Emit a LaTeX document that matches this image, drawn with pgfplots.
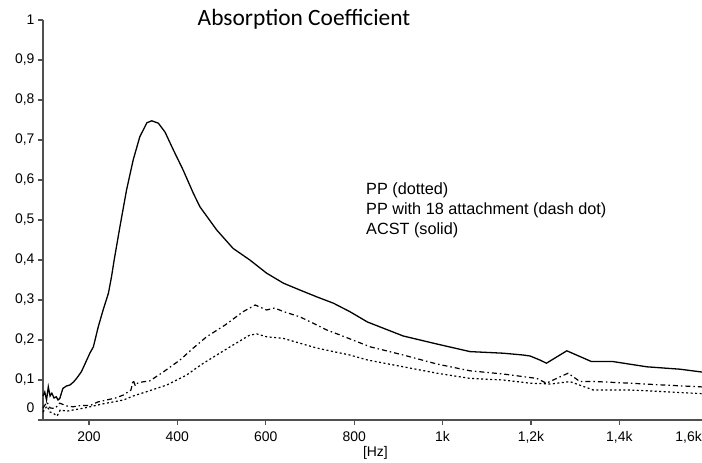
\documentclass[border=0pt]{standalone}
\usepackage{pgfplots}
\pgfplotsset{compat=1.18}
\usepackage{fontspec}
\setmainfont{Liberation Sans}
\newfontfamily\titlefont{Carlito}
\definecolor{axgray}{HTML}{505050}
\begin{document}
\begin{tikzpicture}
\begin{axis}[
  name=ax, at={(0,0)}, anchor=south west,
  scale only axis, width=664.8bp, height=400bp,
  xmin=96, xmax=1600, ymin=0, ymax=1,
  axis x line=bottom, axis y line=left,
  axis line style={-, draw=axgray, line width=1.3bp},
  tick align=outside, major tick length=5bp,
  tick style={draw=axgray, line width=1.3bp},
  xtick={200,400,600,800,1000,1200,1400,1600},
  xticklabels={200,400,600,800,1k,{1,2k},{1,4k},{\makebox[0pt][r]{1,6k\hspace{6bp}}}},
  ytick={0.1,0.2,0.3,0.4,0.5,0.6,0.7,0.8,0.9,1},
  yticklabels={{0,1},{0,2},{0,3},{0,4},{0,5},{0,6},{0,7},{0,8},{0,9},1},
  extra y ticks={0}, extra y tick labels={0},
  extra y tick style={tick label style={yshift=12bp}},
  ticklabel style={font=\fontsize{14}{14}\selectfont, text=black},
  xticklabel style={yshift=-3bp},
  xlabel={[Hz]},
  xlabel style={font=\fontsize{14}{14}\selectfont, yshift=4bp},
  clip=false,
]
% ACST (solid)
\addplot[black, line width=1.3bp] coordinates {
(96,0.06) (100,0.07) (104,0.05) (108,0.083) (112,0.06) (116,0.067) (121,0.055)
(126,0.058) (130,0.05) (134,0.054) (141,0.079) (149,0.085) (157,0.0875) (165,0.095)
(172,0.104) (183,0.121) (195,0.15) (202,0.167) (210,0.183) (221,0.233) (232,0.275)
(244,0.317) (251,0.358) (257,0.40) (270,0.483) (285,0.575) (300,0.65) (315,0.708)
(331,0.743) (342,0.748) (357,0.742) (372,0.72) (391,0.675) (413,0.625) (436,0.567)
(451,0.533) (489,0.475) (526,0.429) (564,0.40) (602,0.367) (640,0.342) (677,0.325)
(715,0.308) (753,0.292) (790,0.271) (830,0.245) (911,0.21) (987,0.19)
(1062,0.171) (1137,0.167) (1182,0.1625) (1198,0.16) (1220,0.15) (1235,0.142)
(1281,0.173) (1337,0.146) (1386,0.146) (1462,0.133) (1537,0.127) (1600,0.118)
};
% PP with 18 attachment (dash dot)
\addplot[black, line width=1.2bp, dash pattern=on 5bp off 3bp on 1.5bp off 3bp] coordinates {
(96,0.03) (105,0.045) (112,0.03) (123,0.029) (134,0.042) (150,0.035) (164,0.033)
(180,0.036) (202,0.036) (220,0.045) (240,0.05) (260,0.055) (278,0.0625) (295,0.075)
(300,0.1) (305,0.085) (310,0.092) (320,0.095) (338,0.098) (368,0.12) (406,0.15)
(436,0.18) (447,0.19) (466,0.208) (508,0.2375) (549,0.271) (576,0.2875) (602,0.275)
(620,0.28) (640,0.271) (677,0.258) (707,0.242) (738,0.225) (768,0.2125) (806,0.196)
(836,0.183) (911,0.1625) (987,0.14) (1062,0.123) (1137,0.115) (1213,0.104)
(1235,0.092) (1260,0.105) (1284,0.117) (1311,0.096) (1348,0.096) (1424,0.092)
(1499,0.0875) (1600,0.082)
};
% PP (dotted)
\addplot[black, line width=1.2bp, dash pattern=on 2bp off 2.5bp] coordinates {
(96,0.02) (105,0.035) (112,0.02) (119,0.017) (128,0.01) (135,0.025) (150,0.022)
(164,0.025) (190,0.03) (230,0.04) (278,0.05) (300,0.06) (331,0.071) (376,0.0875)
(421,0.1125) (447,0.133) (459,0.142) (489,0.1625) (526,0.1875) (564,0.2125)
(580,0.215) (602,0.208) (640,0.204) (677,0.192) (715,0.18) (753,0.171) (790,0.1625)
(830,0.15) (911,0.133) (987,0.117) (1062,0.104) (1137,0.1) (1198,0.092) (1245,0.09)
(1288,0.096) (1341,0.075) (1424,0.075) (1499,0.071) (1600,0.065)
};
\end{axis}
\node[anchor=base, font=\titlefont\fontsize{23.5}{23.5}\selectfont] at (261bp,394bp) {Absorption Coefficient};
\node[anchor=base west, inner sep=0pt, font=\fontsize{16.3}{16.3}\selectfont] at (323bp,225bp) {PP (dotted)};
\node[anchor=base west, inner sep=0pt, font=\fontsize{16.3}{16.3}\selectfont] at (323bp,205.3bp) {PP with 18 attachment (dash dot)};
\node[anchor=base west, inner sep=0pt, font=\fontsize{16.3}{16.3}\selectfont] at (323bp,185.6bp) {ACST (solid)};
\pgfresetboundingbox
\path (-43bp,-43bp) rectangle (659bp,420bp);
\end{tikzpicture}
\end{document}
